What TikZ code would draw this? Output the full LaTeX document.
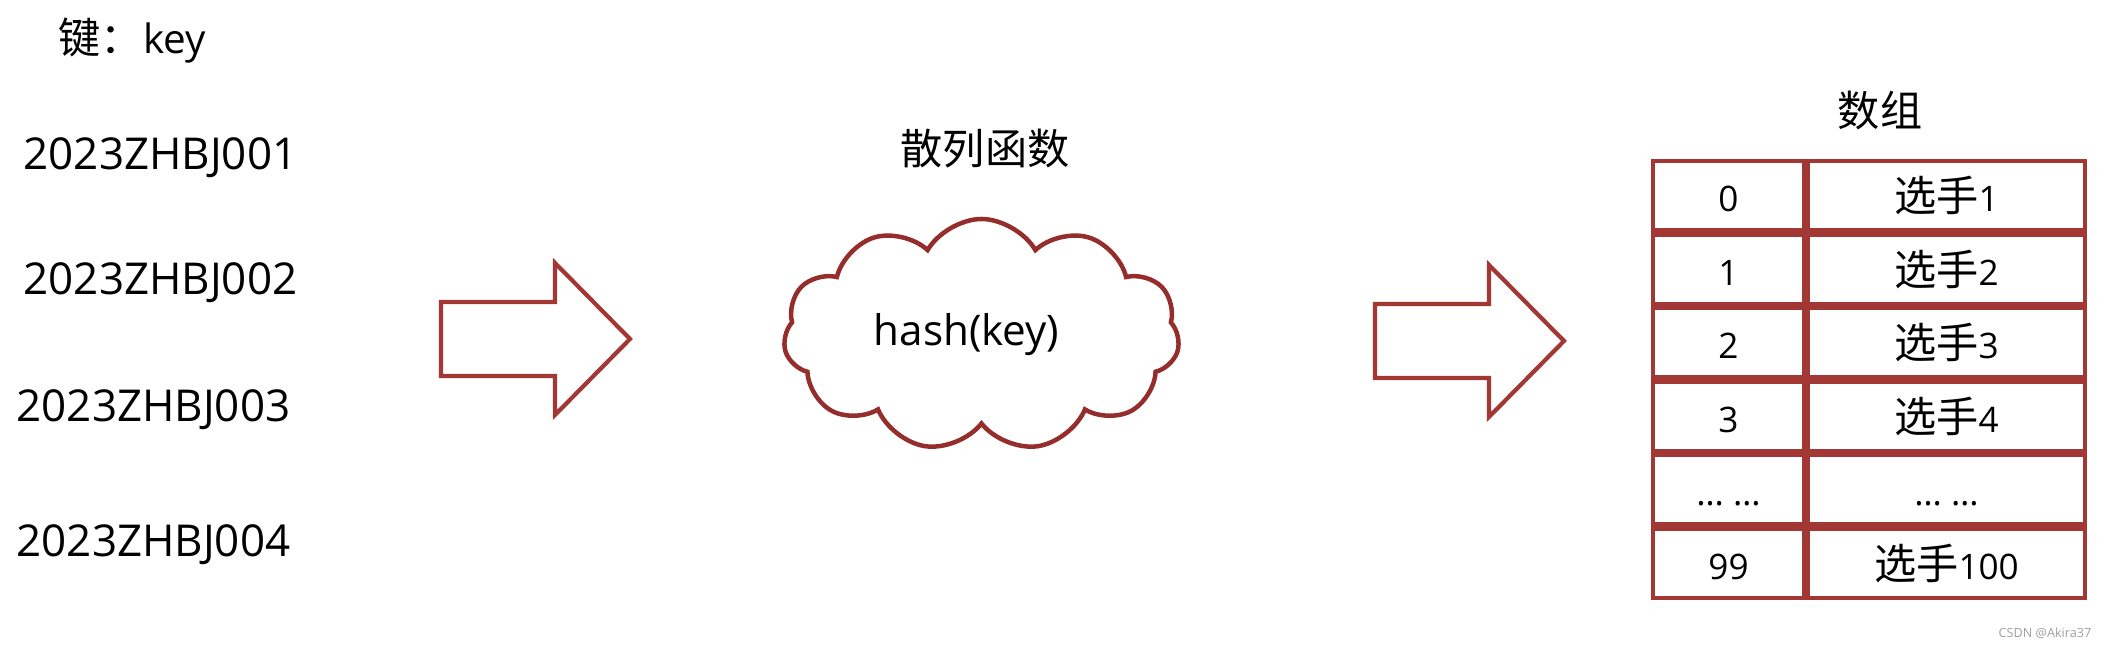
\documentclass[tikz,border=0pt]{standalone}
\usepackage{fontspec}
\setmainfont{Open Sans}
\newfontfamily\cjk{Noto Sans CJK SC}
\usepackage{tikz}
\usetikzlibrary{positioning, shapes.symbols, calc}
\definecolor{boxred}{RGB}{163,55,52}
\definecolor{cloudred}{RGB}{150,45,45}
\newcommand{\xuan}{{\fontsize{12}{14}\selectfont\cjk 选手}}

\begin{document}
\begin{tikzpicture}[
    keylabel/.style={anchor=base west, inner sep=0pt, font=\fontsize{12.5}{15}\selectfont},
    title/.style={inner sep=0pt, font=\fontsize{12}{14}\selectfont\cjk},
    cell/.style={draw=boxred, line width=0.043cm, inner sep=0pt, minimum height=0.692cm, text height=10.5pt, text depth=1.5pt, font=\fontsize{10}{12}\selectfont},
    idxcell/.style={cell, minimum width=1.507cm},
    valcell/.style={cell, minimum width=2.767cm},
    blockarrow/.style={draw=boxred, line width=0.042cm, line join=miter}
]
    \useasboundingbox (0,0) rectangle (21.06,6.48);

    % keys
    \node[keylabel, font=\fontsize{11.5}{14}\selectfont] (keyhead) at (0.58,5.94) {{\fontsize{12}{14}\selectfont\cjk 键：}key};
    \node[keylabel] (key1) at (0.23,4.78) {2023ZHBJ001};
    \node[keylabel] (key2) at (0.23,3.53) {2023ZHBJ002};
    \node[keylabel] (key3) at (0.16,2.26) {2023ZHBJ003};
    \node[keylabel] (key4) at (0.16,0.91) {2023ZHBJ004};

    % block arrows
    \foreach \x/\y in {4.41/3.09, 13.75/3.07}
        \draw[blockarrow] (\x,\y+0.37) -- ++(1.14,0) -- ++(0,0.39) -- ++(0.75,-0.76)
            -- ++(-0.75,-0.76) -- ++(0,0.39) -- ++(-1.14,0) -- cycle;

    % hash function
    \node[title] (hashtitle) at (9.85,4.99) {散列函数};
    \node[cloud, cloud puffs=11, cloud puff arc=120, aspect=1.8, draw=cloudred, line width=0.045cm,
          minimum width=3.96cm, minimum height=2.32cm] (hashcloud) at (9.815,3.13) {};
    \node[font=\fontsize{12}{14}\selectfont, xshift=-0.15cm] (hashtext) at (hashcloud.center) {hash(key)};

    % array
    \node[title] (arrtitle) at (18.80,5.37) {数组};
    \foreach \i/\ix/\vx in {0/0/{\xuan 1}, 1/1/{\xuan 2}, 2/2/{\xuan 3}, 3/3/{\xuan 4}, 4/{… …}/{… …}, 5/99/{\xuan 100}} {
        \node[idxcell] (idx\i) at (17.285,4.5225-0.735*\i) {\ix};
        \node[valcell] (val\i) at (19.465,4.5225-0.735*\i) {\vx};
    }

    \node[anchor=east, inner sep=0pt, text=gray!75, font=\fontsize{3.6}{4}\selectfont] (mark) at (20.92,0.15) {CSDN @Akira37};
\end{tikzpicture}
\end{document}
